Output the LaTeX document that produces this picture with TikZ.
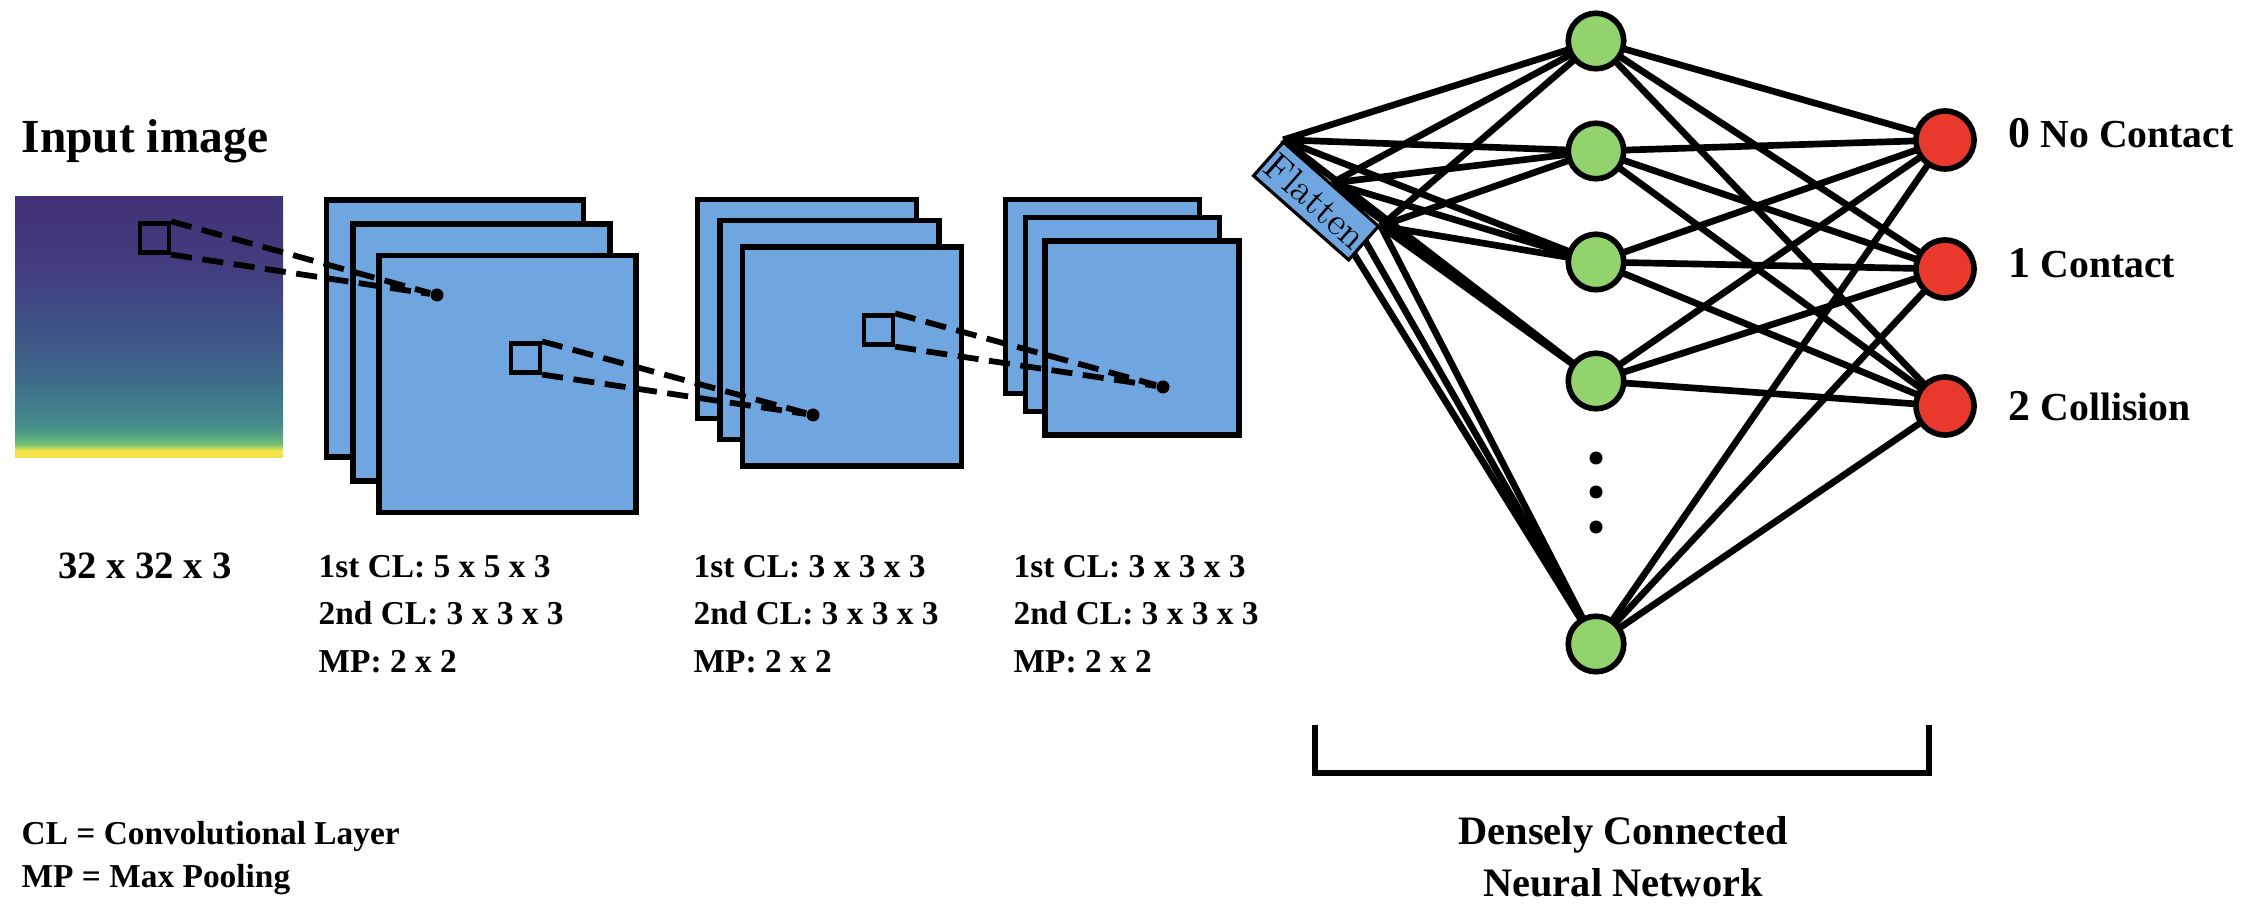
\documentclass[tikz,border=0pt]{standalone}
\usepackage{fontspec}
\usepackage{tikz,tkz-graph}
\usetikzlibrary{backgrounds}

\newfontfamily\capfont{Liberation Serif}

\definecolor{layerblue}{HTML}{70A6E0}
\definecolor{nodegreen}{HTML}{93D36E}
\definecolor{nodered}{HTML}{E9392D}
\definecolor{vir0}{HTML}{433276}
\definecolor{vir1}{HTML}{413F80}
\definecolor{vir2}{HTML}{3E5387}
\definecolor{vir3}{HTML}{3D6689}
\definecolor{vir4}{HTML}{407A8B}
\definecolor{vir5}{HTML}{46898A}
\definecolor{vir6}{HTML}{4E9C86}
\definecolor{vir7}{HTML}{5FAE7D}
\definecolor{vir8}{HTML}{74C075}
\definecolor{vir9}{HTML}{B9D85A}
\definecolor{vir10}{HTML}{F4E44B}
\definecolor{vir11}{HTML}{E9DF56}

\pgfdeclareverticalshading{viridisbar}{100bp}{%
  color(0bp)=(vir11); color(25bp)=(vir11); color(25.5bp)=(vir10);
  color(26.5bp)=(vir10); color(27bp)=(vir9); color(27.6bp)=(vir8);
  color(28.8bp)=(vir7); color(30bp)=(vir6); color(32bp)=(vir5);
  color(36bp)=(vir4); color(42bp)=(vir3); color(50bp)=(vir2);
  color(60bp)=(vir1); color(75bp)=(vir0); color(100bp)=(vir0)}

\begin{document}
\begin{tikzpicture}[
    layer/.style={draw, line width=1.5pt, fill=layerblue, inner sep=0pt},
    kernel/.style={draw, line width=1.2pt, inner sep=0pt, minimum size=0.29cm},
    pixel/.style={circle, fill, inner sep=0pt, minimum size=0.13cm},
    window/.style={dash pattern=on 6pt off 3pt, line width=1.65pt},
    caption/.style={font=\capfont\bfseries\fontsize{9.5}{13.4}\selectfont, inner sep=0pt, align=left},
  ]
  \useasboundingbox (0,0) rectangle (22.52,9.12);

  % Input image
  \node[anchor=base west, inner sep=0pt, font=\capfont\bfseries\fontsize{13.5}{16}\selectfont] (title) at (0.21,7.59) {Input image};
  \node[shade, shading=viridisbar, minimum width=2.68cm, minimum height=2.61cm, inner sep=0pt] (img) at (1.49,5.845) {};
  \node[kernel] (k0) at (1.545,6.74) {};
  \node[caption, anchor=base, font=\capfont\bfseries\fontsize{11}{13}\selectfont] (dim) at (1.45,3.34) {32 x 32 x 3};

  % Block 1
  \node[layer, minimum size=2.57cm] (a1) at (4.55,5.835) {};
  \node[layer, minimum size=2.57cm] (a2) at (4.815,5.595) {};
  \node[layer, minimum size=2.57cm] (a3) at (5.075,5.28) {};
  \node[kernel] (k1) at (5.255,5.54) {};
  \node[caption, anchor=north west] (c1) at (3.18,3.57) {1st CL: 5 x 5 x 3\\2nd CL: 3 x 3 x 3\\MP: 2 x 2};

  % Block 2
  \node[layer, minimum size=2.19cm] (b1) at (8.07,6.03) {};
  \node[layer, minimum size=2.19cm] (b2) at (8.295,5.82) {};
  \node[layer, minimum size=2.19cm] (b3) at (8.52,5.555) {};
  \node[kernel] (k2) at (8.785,5.82) {};
  \node[caption, anchor=north west] (c2) at (6.93,3.57) {1st CL: 3 x 3 x 3\\2nd CL: 3 x 3 x 3\\MP: 2 x 2};

  % Block 3
  \node[layer, minimum size=1.94cm] (d1) at (11.025,6.155) {};
  \node[layer, minimum size=1.94cm] (d2) at (11.225,5.975) {};
  \node[layer, minimum size=1.94cm] (d3) at (11.42,5.74) {};
  \node[caption, anchor=north west] (c3) at (10.13,3.57) {1st CL: 3 x 3 x 3\\2nd CL: 3 x 3 x 3\\MP: 2 x 2};

  % Receptive fields
  \node[pixel] (p1) at (4.37,6.17) {};
  \node[pixel] (p2) at (8.13,4.97) {};
  \node[pixel] (p3) at (11.63,5.25) {};
  \draw[window] (k0.north east) -- (p1);
  \draw[window] (k0.south east) -- (p1);
  \draw[window] (k1.north east) -- (p2);
  \draw[window] (k1.south east) -- (p2);
  \draw[window] (k2.north east) -- (p3);
  \draw[window] (k2.south east) -- (p3);

  \node[caption, anchor=north west, font=\capfont\bfseries\fontsize{9.5}{12}\selectfont] (key) at (0.21,0.91) {CL = Convolutional Layer\\MP = Max Pooling};

  % Flatten
  \node[draw, line width=0.9pt, fill=layerblue, rotate=-41.5, minimum width=1.27cm, minimum height=0.45cm, inner sep=0pt, font=\fontsize{11}{12}\selectfont] (f) at (13.16,7.11) {Flatten};

  % Vertices
  \SetVertexNormal[Shape=circle, FillColor=nodegreen, LineColor=black, LineWidth=1.6pt, MinSize=0.555cm, InnerSep=0pt, OuterSep=0pt]
  \Vertex[x=15.96,y=8.71,NoLabel]{h1}
  \Vertex[x=15.96,y=7.61,NoLabel]{h2}
  \Vertex[x=15.96,y=6.50,NoLabel]{h3}
  \Vertex[x=15.96,y=5.31,NoLabel]{h4}
  \Vertex[x=15.96,y=2.68,NoLabel]{h5}
  \SetVertexNormal[Shape=circle, FillColor=nodered, LineColor=black, LineWidth=1.6pt, MinSize=0.58cm, InnerSep=0pt, OuterSep=0pt]
  \Vertex[x=19.45,y=7.72,NoLabel]{o0}
  \Vertex[x=19.45,y=6.43,NoLabel]{o1}
  \Vertex[x=19.45,y=5.06,NoLabel]{o2}

  \node[pixel] (v1) at (15.96,4.54) {};
  \node[pixel] (v2) at (15.96,4.20) {};
  \node[pixel] (v3) at (15.96,3.85) {};

  % Edges
  \SetUpEdge[lw=1.9pt, color=black]
  \tikzset{EdgeStyle/.append style={line width=1.9pt}}
  \begin{pgfonlayer}{background}
  \Edge(f.north west)(h1)
  \Edge(f.north west)(h2)
  \Edge(f.north west)(h3)
  \Edge(f.north west)(h4)
  \Edge(f.north west)(h5)
  \Edge(f.north)(h1)
  \Edge(f.north)(h2)
  \Edge(f.north)(h3)
  \Edge(f.north)(h4)
  \Edge(f.north)(h5)
  \Edge(f.north east)(h1)
  \Edge(f.north east)(h2)
  \Edge(f.north east)(h3)
  \Edge(f.north east)(h4)
  \Edge(f.north east)(h5)

  \Edge(h1)(o0)
  \Edge(h1)(o1)
  \Edge(h1)(o2)
  \Edge(h2)(o0)
  \Edge(h2)(o1)
  \Edge(h2)(o2)
  \Edge(h3)(o0)
  \Edge(h3)(o1)
  \Edge(h3)(o2)
  \Edge(h4)(o0)
  \Edge(h4)(o1)
  \Edge(h4)(o2)
  \Edge(h5)(o0)
  \Edge(h5)(o1)
  \Edge(h5)(o2)
  \end{pgfonlayer}

  % Classes
  \node[anchor=base west, inner sep=0pt, font=\capfont\bfseries\fontsize{11.3}{13}\selectfont] (l0) at (20.08,7.64) {{\fontsize{12.5}{13}\selectfont 0} No Contact};
  \node[anchor=base west, inner sep=0pt, font=\capfont\bfseries\fontsize{11.3}{13}\selectfont] (l1) at (20.08,6.34) {{\fontsize{12.5}{13}\selectfont 1} Contact};
  \node[anchor=base west, inner sep=0pt, font=\capfont\bfseries\fontsize{11.3}{13}\selectfont] (l2) at (20.08,4.91) {{\fontsize{12.5}{13}\selectfont 2} Collision};

  % Dense part
  \coordinate (s1) at (13.15,1.87);
  \coordinate (s2) at (19.29,1.87);
  \draw[line width=1.6pt] (s1) -- ++(0,-0.48) -| (s2);
  \node[align=center, inner sep=0pt, font=\capfont\bfseries\fontsize{11.5}{14.8}\selectfont] (dn) at (16.23,0.55) {Densely Connected\\Neural Network};

\end{tikzpicture}
\end{document}
